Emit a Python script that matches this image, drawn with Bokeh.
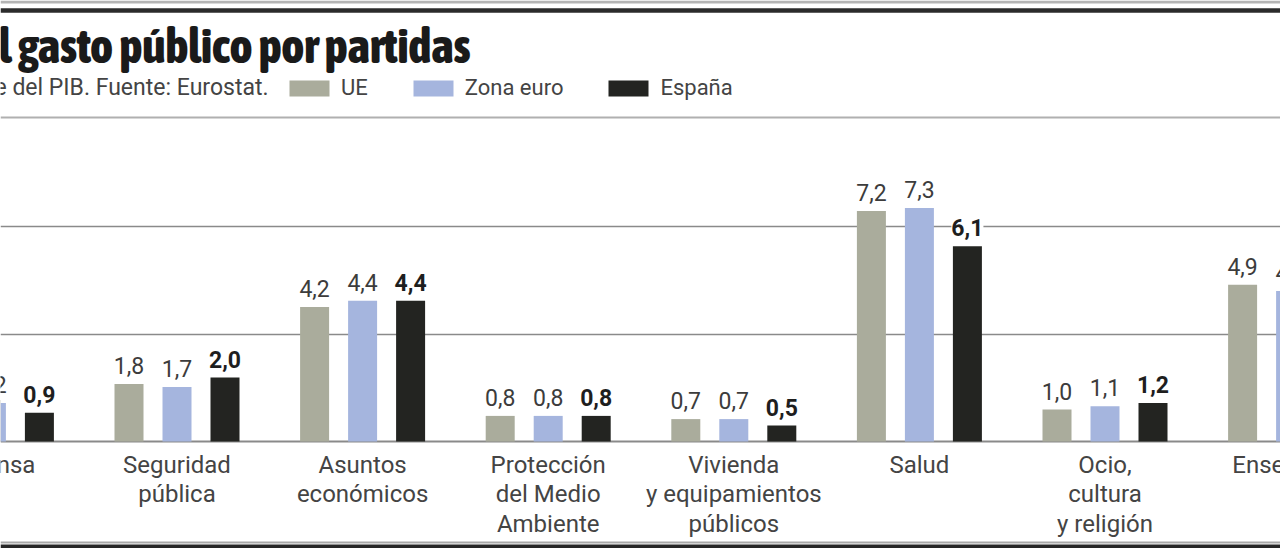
from bokeh.plotting import figure
from bokeh.models import Range1d, Span, ColumnDataSource, Legend, LegendItem
from bokeh.core.properties import value
from bokeh.transform import dodge
from bokeh.embed import file_html
from bokeh.resources import INLINE

# ---------------- data ----------------
categories = ["Defensa", "Seguridad\npública", "Asuntos\neconómicos",
              "Protección\ndel Medio\nAmbiente", "Vivienda\ny equipamientos\npúblicos",
              "Salud", "Ocio,\ncultura\ny religión", "Enseñanza"]
ue = [1.3, 1.8, 4.2, 0.8, 0.7, 7.2, 1.0, 4.9]
zona_euro = [1.2, 1.7, 4.4, 0.8, 0.7, 7.3, 1.1, 4.7]
espana = [0.9, 2.0, 4.4, 0.8, 0.5, 6.1, 1.2, 4.1]
series_names = ["UE", "Zona euro", "España"]
colors = ["#aaac9c", "#a5b5de", "#232421"]
title_text = "El gasto público por partidas"
subtitle_text = "En porcentaje del PIB. Fuente: Eurostat."

# ---------------- layout helpers (reference pixel -> data) ----------------
W, H = 1280, 548
CX1, DX = 176.5, 185.6
Y0, DY = 441.0, 32.0

def fx(px):
    return 1 + (px - CX1) / DX

def fy(py):
    return (Y0 - py) / DY

p = figure(width=W, height=H, output_backend="svg", toolbar_location=None,
           x_range=Range1d(fx(0), fx(W)), y_range=Range1d(fy(H), fy(0)),
           x_axis_location=None, y_axis_location=None, min_border=0,
           outline_line_color=None, background_fill_color="white")
p.grid.visible = False

# decorative rules
for py, col, lw in [(1.5, "#b4b4b4", 3), (10, "#2b2b2b", 4.5), (117, "#b0b0b0", 2),
                    (542, "#a8a8a8", 2), (546, "#262626", 4)]:
    p.add_layout(Span(location=fy(py), dimension="width", line_color=col,
                      line_width=lw, level="underlay"))
for gy in [fy(334), fy(226)]:
    p.add_layout(Span(location=gy, dimension="width", line_color="#8a8a8a",
                      line_width=1.5, level="underlay"))
p.add_layout(Span(location=0, dimension="width", line_color="#8a8a8a",
                  line_width=2, level="underlay"))

src = ColumnDataSource(dict(
    x=list(range(len(categories))), cat=categories,
    ue=ue, ze=zona_euro, es=espana,
    ue_l=[f"{v:.1f}".replace(".", ",") for v in ue],
    ze_l=[f"{v:.1f}".replace(".", ",") for v in zona_euro],
    es_l=[f"{v:.1f}".replace(".", ",") for v in espana],
))

off = 48 / DX
bw = 29 / DX
renderers = []
for key, o, col in zip(["ue", "ze", "es"], [-off, 0, off], colors):
    r = p.vbar(x=dodge("x", o, range=p.x_range), top=key, width=bw, bottom=0,
               source=src, fill_color=col, line_color=None)
    renderers.append(r)

for key, o, bold, tc in zip(["ue_l", "ze_l", "es_l"], [-off, 0, off],
                            [False, False, True], ["#3c3c3c", "#3c3c3c", "#1e1e1e"]):
    p.text(x=dodge("x", o, range=p.x_range), y=key[:2], text=key, source=src,
           text_align="center", text_baseline="bottom", y_offset=-10,
           text_font=value("Roboto"), text_font_size="23px",
           text_font_style="bold" if bold else "normal", text_color=tc,
           background_fill_color="white")

p.text(x="x", y=fy(450), text="cat", source=src, text_align="center",
       text_baseline="top", text_line_height=1.07, text_font=value("Roboto"),
       text_font_size="24px", text_color="#444444")

# title & subtitle
p.text(x=[fx(470)], y=[fy(45)], text=[title_text], text_align="right",
       text_baseline="alphabetic", text_font=value("Asap Condensed ExtraBold"),
       text_font_size="48px", text_font_style="normal", text_color="#1a1a1a")
p.text(x=[fx(268)], y=[fy(87)], text=[subtitle_text], text_align="right",
       text_baseline="middle", text_font=value("Roboto"),
       text_font_size="23px", text_color="#444444")

legend = Legend(items=[LegendItem(label=n, renderers=[r]) for n, r in zip(series_names, renderers)],
                orientation="horizontal", location=(284, H - 100), glyph_width=50,
                glyph_height=20, label_height=20, label_standoff=7, spacing=40,
                padding=0, margin=0, border_line_color=None, background_fill_alpha=0,
                label_text_font="Roboto", label_text_font_size="22px",
                label_text_color="#444444", label_text_baseline="middle")
p.add_layout(legend)

open("out.html", "w").write(file_html(p, INLINE))
